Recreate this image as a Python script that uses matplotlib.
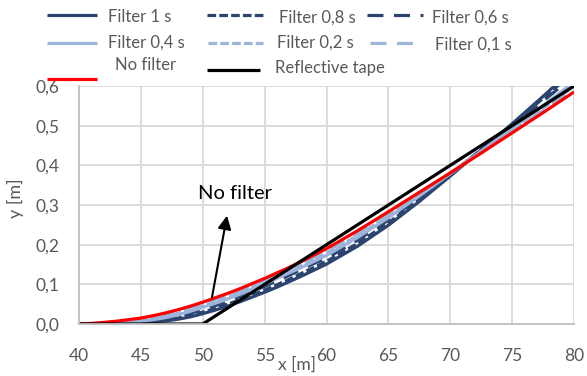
import matplotlib
matplotlib.use("Agg")
import matplotlib.pyplot as plt
from matplotlib.lines import Line2D
from matplotlib.ticker import FuncFormatter, MultipleLocator

# position along the track: 1 m steps over the bend, 2.5 m steps afterwards
x_m = [40, 41, 42, 43, 44, 45, 46, 47, 48, 49, 50, 51, 52, 53, 54, 55, 56, 57, 58, 59, 60,
       62.5, 65, 67.5, 70, 72.5, 75, 77.5, 80]

filter_1 = [0, 0, 0.0005, 0.001, 0.002, 0.003, 0.005, 0.008, 0.012, 0.018, 0.026, 0.035, 0.045, 0.056,
            0.068, 0.080, 0.093, 0.107, 0.121, 0.136, 0.151,
            0.196, 0.249, 0.309, 0.373, 0.439, 0.505, 0.574, 0.645]
filter_08 = [0, 0, 0.0007, 0.0015, 0.003, 0.004, 0.007, 0.010, 0.015, 0.022, 0.030, 0.039, 0.050, 0.061,
             0.073, 0.086, 0.099, 0.113, 0.128, 0.143, 0.158,
             0.203, 0.255, 0.314, 0.376, 0.440, 0.503, 0.569, 0.636]
filter_06 = [0, 0, 0.001, 0.002, 0.0035, 0.005, 0.008, 0.012, 0.019, 0.027, 0.036, 0.046, 0.057, 0.069,
             0.082, 0.095, 0.109, 0.123, 0.138, 0.153, 0.166,
             0.211, 0.262, 0.319, 0.378, 0.438, 0.499, 0.562, 0.626]
filter_04 = [0, 0.0003, 0.0015, 0.003, 0.005, 0.007, 0.011, 0.016, 0.023, 0.032, 0.042, 0.052, 0.063, 0.075,
             0.088, 0.101, 0.115, 0.129, 0.143, 0.158, 0.173,
             0.218, 0.268, 0.323, 0.379, 0.436, 0.493, 0.551, 0.610]
filter_02 = [0, 0.0005, 0.002, 0.004, 0.007, 0.010, 0.014, 0.020, 0.027, 0.036, 0.046, 0.057, 0.068, 0.080,
             0.093, 0.106, 0.120, 0.134, 0.149, 0.164, 0.179,
             0.223, 0.273, 0.326, 0.380, 0.434, 0.489, 0.544, 0.600]
filter_01 = [0, 0.001, 0.003, 0.005, 0.009, 0.012, 0.017, 0.023, 0.031, 0.040, 0.050, 0.061, 0.072, 0.084,
             0.097, 0.110, 0.124, 0.138, 0.153, 0.168, 0.183,
             0.228, 0.277, 0.329, 0.381, 0.433, 0.486, 0.538, 0.592]
no_filter = [0, 0.0015, 0.004, 0.007, 0.011, 0.015, 0.021, 0.028, 0.036, 0.045, 0.055, 0.066, 0.077, 0.089,
             0.102, 0.115, 0.129, 0.143, 0.158, 0.174, 0.190,
             0.235, 0.283, 0.332, 0.381, 0.431, 0.482, 0.533, 0.585]

tape_x = [40, 50, 80]
tape_y = [0.0, 0.0, 0.6]

NAVY = "#2B4470"
LIGHT = "#9BB4DA"
GREY_TXT = "#595959"
GRID = "#D9D9D9"

DOT = (0, (2.7, 1.0))
DASH = (0, (5.0, 3.3))

series = [
    ("Filter 1 s", filter_1, NAVY, "-"),
    ("Filter 0,8 s", filter_08, NAVY, DOT),
    ("Filter 0,6 s", filter_06, NAVY, DASH),
    ("Filter 0,4 s", filter_04, LIGHT, "-"),
    ("Filter 0,2 s", filter_02, LIGHT, DOT),
    ("Filter 0,1 s", filter_01, LIGHT, DASH),
    ("No filter", no_filter, "#FF0000", "-"),
]

plt.rcParams["font.family"] = ["Lato", "DejaVu Sans"]

fig = plt.figure(figsize=(5.87, 3.76), dpi=100)
ax = fig.add_axes([0.1346, 0.1383, 0.978 - 0.1346, 0.7713 - 0.1383])

for label, ys, color, ls in series:
    ax.plot(x_m, ys, color=color, linestyle=ls, lw=2.3, solid_capstyle="butt")
ax.plot(tape_x, tape_y, color="black", lw=2.3)

ax.set_xlim(40, 80)
ax.set_ylim(0, 0.6)
ax.xaxis.set_major_locator(MultipleLocator(5))
ax.yaxis.set_major_locator(MultipleLocator(0.1))
ax.yaxis.set_major_formatter(FuncFormatter(lambda v, p: f"{v:.1f}".replace(".", ",")))
ax.grid(True, color=GRID, lw=1.3)
ax.set_axisbelow(True)
for side in ("top", "right"):
    ax.spines[side].set_visible(False)
for side in ("left", "bottom"):
    ax.spines[side].set_color("#BFBFBF")
    ax.spines[side].set_linewidth(1.3)
ax.tick_params(length=0, labelsize=12.5, labelcolor=GREY_TXT)
ax.tick_params(axis="x", pad=17)
ax.tick_params(axis="y", pad=14)

ax.text(0.44, -0.207, "x [m]", transform=ax.transAxes, ha="center", va="bottom",
        fontsize=12.5, color=GREY_TXT)
ax.text(-0.129, 0.53, "y [m]", transform=ax.transAxes, ha="center", va="center",
        fontsize=13, color=GREY_TXT, rotation=90)

# callout pointing at the unfiltered curve
ax.annotate("", xy=(52.0, 0.28), xytext=(50.7, 0.06),
            arrowprops=dict(arrowstyle="-|>", color="black", lw=1.5, mutation_scale=20))
ax.text(52.6, 0.33, "No filter", ha="center", va="center", fontsize=14.5, color="black")

# hand-placed legend above the plot (figure pixels, origin top-left)
W, H = 587.0, 376.0
legend_rows = [
    ("Filter 1 s", NAVY, "-", 47, 97, 15, 108, 17),
    ("Filter 0,8 s", NAVY, DOT, 207, 266, 15, 279, 18),
    ("Filter 0,6 s", NAVY, DASH, 367, 423, 15, 432, 18),
    ("Filter 0,4 s", LIGHT, "-", 47, 97, 43, 108, 43),
    ("Filter 0,2 s", LIGHT, DOT, 208, 263, 43, 277, 43),
    ("Filter 0,1 s", LIGHT, DASH, 370, 422, 43, 435, 45),
    ("No filter", "#FF0000", "-", 47, 97, 79, 115, 65),
    ("Reflective tape", "black", "-", 207, 260, 70, 275, 68),
]
for text, color, ls, x0, x1, ly, tx, ty in legend_rows:
    fig.add_artist(Line2D([x0 / W, x1 / W], [1 - ly / H, 1 - ly / H], transform=fig.transFigure,
                          color=color, linestyle=ls, lw=2.3, solid_capstyle="butt"))
    fig.text(tx / W, 1 - ty / H, text, ha="left", va="center", fontsize=12, color=GREY_TXT)

fig.savefig("out.png", dpi=100)
